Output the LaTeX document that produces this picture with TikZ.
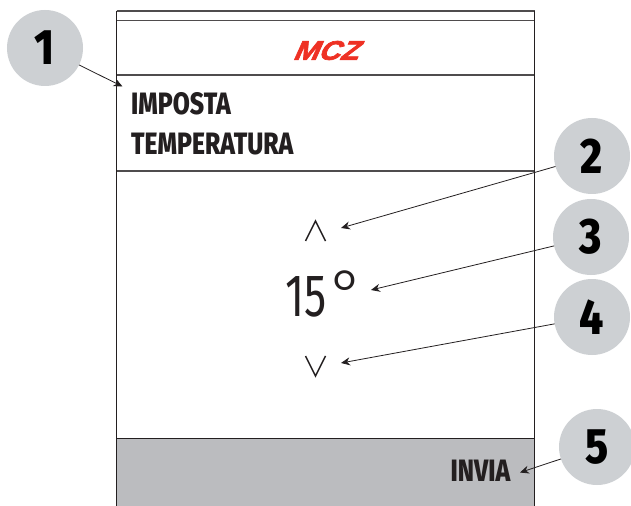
\documentclass[tikz,border=0pt]{standalone}
\usepackage{fontspec}
\usetikzlibrary{arrows.meta}
\setmainfont{Fira Sans}[FakeStretch=0.8,BoldFont=* ExtraBold]
\newfontfamily\numfont{Fira Sans}[FakeStretch=0.85,UprightFont=* ExtraBold]
\newfontfamily\lightfont{Fira Sans}[FakeStretch=0.74]
\newfontfamily\thinfont{Fira Sans}[UprightFont=* Light]
\newfontfamily\logofont{Liberation Sans}[UprightFont=* Bold,FakeSlant=0.45,FakeStretch=1.12,FakeBold=2.5]
\definecolor{circ}{HTML}{CDD0D3}
\definecolor{barg}{HTML}{BBBCBF}
\definecolor{frame}{HTML}{231F20}
\definecolor{logored}{HTML}{EE3124}
\begin{document}
\begin{tikzpicture}[x=1bp,y=-1bp,
  numc/.style={circle,fill=circ,minimum size=76bp,inner sep=0pt,outer sep=0pt,font=\numfont\fontsize{50}{50}\selectfont,text=black},
  rule/.style={draw=frame!80,line width=1.1bp},
  side/.style={draw=frame,line width=1bp},
  lead/.style={draw=frame,line width=0.8bp,-{Stealth[length=9bp,width=8bp]}},
  head/.style={font=\bfseries\fontsize{31}{31}\selectfont,text=frame,inner sep=0pt,anchor=base west},
  chev/.style={draw=frame,line width=1.5bp}]
\useasboundingbox (0,0) rectangle (631,506);
\fill[barg] (116.5,438) rectangle (534.5,506);
\draw[rule] (116.5,11) -- (534.5,11);
\draw[rule] (116.5,20.5) -- (534.5,20.5);
\draw[rule] (116.5,75) -- (534.5,75);
\draw[rule] (116.5,171) -- (534.5,171);
\draw[draw=frame,line width=1.3bp] (116.5,438.5) -- (534.5,438.5);
\draw[side] (116.5,11) -- (116.5,506);
\draw[side] (534.5,11) -- (534.5,506);
\node[inner sep=0pt,text=logored] (logo) at (325,50.5) {\logofont\fontsize{27}{27}\selectfont MCZ};
\node[head] (t1) at (131,115) {IMPOSTA};
\node[head] (t2) at (131,155) {TEMPERATURA};
\node[inner sep=0pt,anchor=base,text=frame] (temp) at (325,316) {\lightfont\fontsize{60}{60}\selectfont 15\kern4bp{\thinfont\fontsize{66}{66}\selectfont °}};
\node[head,anchor=base east] (invia) at (510.5,481.5) {INVIA};
\draw[chev] (305.5,241) -- (315.5,221) -- (325.5,241);
\draw[chev] (305.5,356) -- (315.5,376) -- (325.5,356);
\node[numc] (c1) at (45,48) {1};
\node[numc] (c2) at (592,156) {2};
\node[numc] (c3) at (591,237) {3};
\node[numc] (c4) at (592,317) {4};
\node[numc] (c5) at (597,447) {5};
\coordinate (a1) at (122.5,86.5);
\coordinate (a2) at (341,228);
\coordinate (a3) at (371,290);
\coordinate (a4) at (341,363);
\coordinate (a5) at (520,472.5);
\draw[lead] (c1) -- (a1);
\draw[lead] (c2) -- (a2);
\draw[lead] (c3) -- (a3);
\draw[lead] (c4) -- (a4);
\draw[lead] (c5) -- (a5);
\end{tikzpicture}
\end{document}
